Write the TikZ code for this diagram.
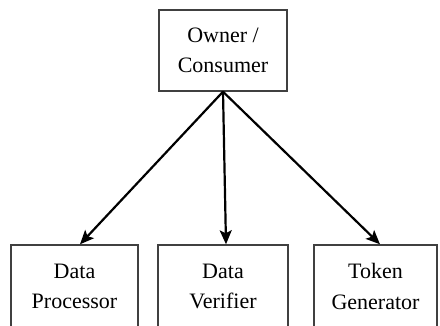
\documentclass[tikz,border=0pt]{standalone}
\usepackage{fontspec}
\setmainfont{Liberation Serif}
\newfontfamily\timesfont{Liberation Serif}
\usetikzlibrary{arrows.meta}
\begin{document}
\begin{tikzpicture}[x=1pt,y=-1pt,
  box/.style={draw=black!75, line width=1.4pt, align=center, inner sep=0pt,
    font=\timesfont\fontsize{22}{30.5}\selectfont},
  arr/.style={line width=2.2pt, -{Stealth[length=14pt,width=12pt,inset=3pt]}}]
  \useasboundingbox (0,0) rectangle (440,326);
  \clip (0,0) rectangle (440,326);
  \fill[white] (0,0) rectangle (440,326);
  \node[box, minimum width=128pt, minimum height=81pt] (top) at (223,50.5) {Owner /\\Consumer};
  \node[box, minimum width=127pt, minimum height=83pt] (b1) at (74.5,286.5) {Data\\Processor};
  \node[box, minimum width=130pt, minimum height=83pt] (b2) at (223,286.5) {Data\\Verifier};
  \node[box, minimum width=123pt, minimum height=83pt] (b3) at (375.5,286.5) {Token\\Generator};
  \draw[arr] (top.south) -- ([xshift=5.5pt]b1.north);
  \draw[arr] (top.south) -- ([xshift=3pt]b2.north);
  \draw[arr] (top.south) -- ([xshift=4.5pt]b3.north);
\end{tikzpicture}
\end{document}
